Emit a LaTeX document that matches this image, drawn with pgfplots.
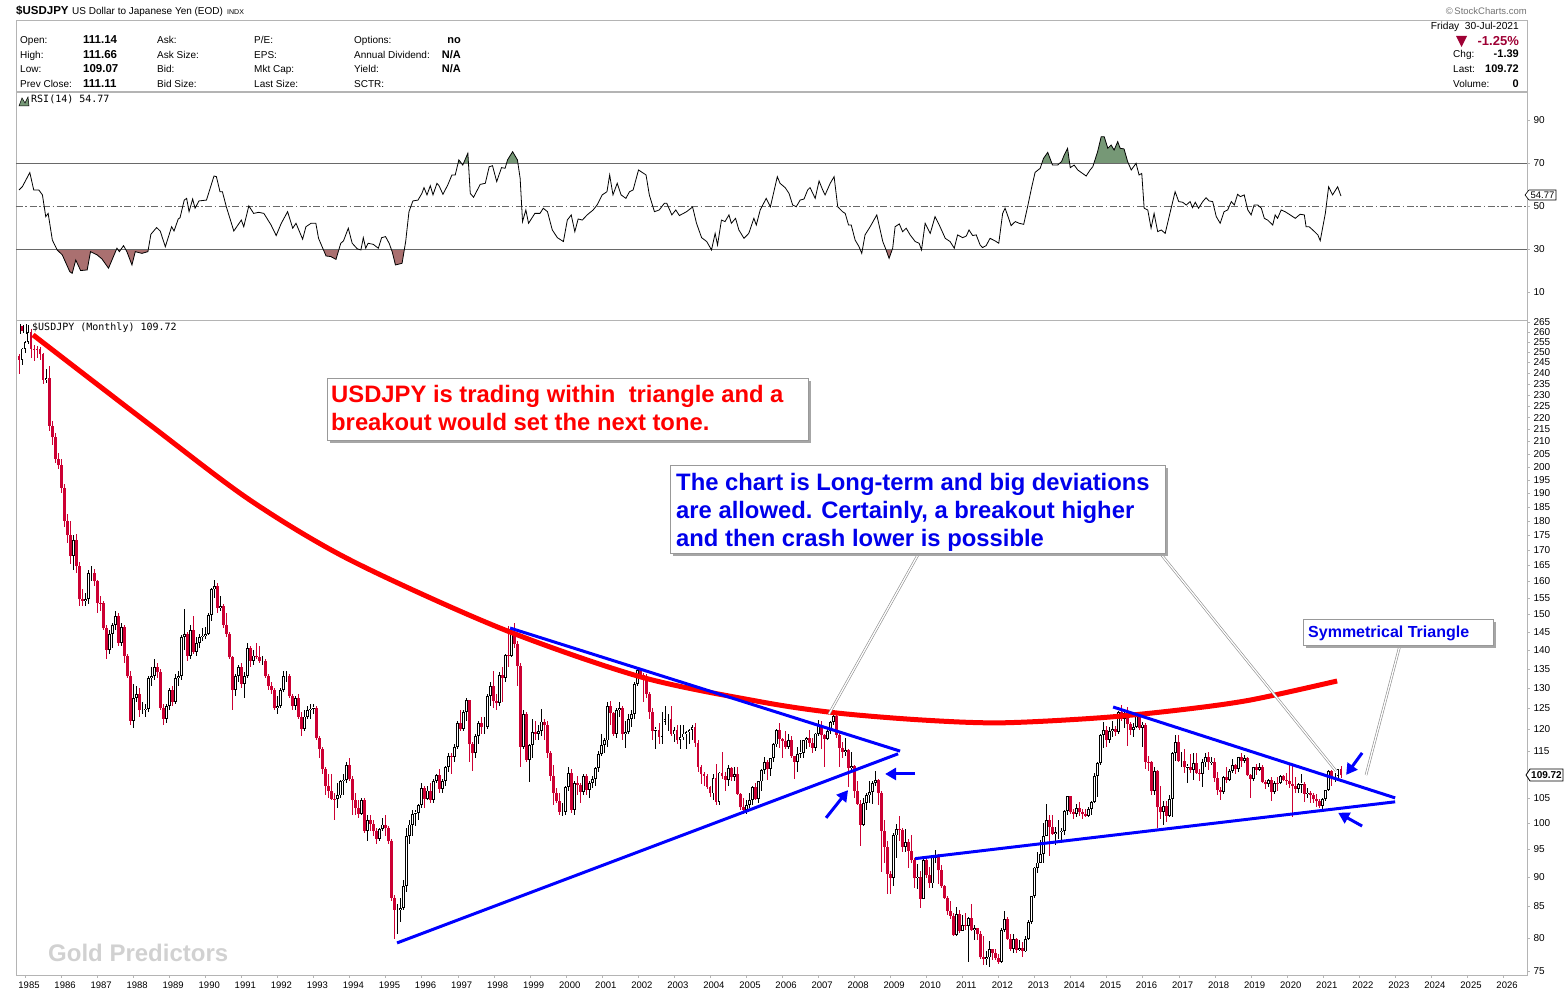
\documentclass[border=0pt]{standalone}
\usepackage{fontspec}
\setmainfont{Liberation Sans}
\newfontfamily\monofont{DejaVu Sans Mono}
\usepackage{pgfplots}
\pgfplotsset{compat=1.18}
\usepackage{pgfplotstable}
\usetikzlibrary{arrows.meta}

\definecolor{candleRed}{RGB}{204,0,51}
\definecolor{rsiGreen}{RGB}{118,152,118}
\definecolor{rsiBrown}{RGB}{170,112,112}
\definecolor{frameGray}{RGB}{180,180,180}
\definecolor{levelGray}{RGB}{105,105,105}
\definecolor{chgRed}{RGB}{158,0,52}
\definecolor{noteBlue}{RGB}{0,0,235}

% Monthly USD/JPY candles, Nov 1984 - Jul 2021 (open high low close)
\pgfplotstableread[row sep=\\]{
o h l c\\
248.0 249.0 239.5 246.2\\ 246.2 252.0 243.5 251.6\\
% 1985
251.6 255.5 249.5 254.8\\ 254.8 263.6 254.0 259.6\\ 259.6 261.5 247.0 251.5\\ 251.5 253.5 245.5 251.4\\ 251.4 253.0 247.0 251.3\\ 251.3 252.5 246.0 248.8\\ 248.8 249.5 235.0 236.8\\ 236.8 242.0 235.5 237.4\\ 237.4 243.0 214.5 216.5\\ 216.5 218.5 208.5 211.7\\ 211.7 213.5 201.5 202.9\\ 202.9 205.5 199.0 200.5\\
% 1986
200.5 203.0 190.0 192.0\\ 192.0 193.5 178.0 180.0\\ 180.0 182.5 172.5 175.0\\ 175.0 180.0 165.5 168.0\\ 168.0 175.0 163.5 173.5\\ 173.5 175.5 162.5 165.0\\ 165.0 166.0 152.5 154.5\\ 154.5 157.5 152.5 154.0\\ 154.0 156.5 152.5 154.5\\ 154.5 163.5 153.0 162.5\\ 162.5 165.0 160.0 162.5\\ 162.5 164.0 158.5 160.0\\
% 1987
160.0 160.5 150.5 153.5\\ 153.5 155.5 151.0 153.3\\ 153.3 154.0 145.5 146.0\\ 146.0 147.0 137.5 140.0\\ 140.0 145.5 139.0 144.5\\ 144.5 147.5 140.5 147.0\\ 147.0 151.0 145.5 149.5\\ 149.5 150.5 141.0 142.0\\ 142.0 147.5 141.0 146.5\\ 146.5 147.0 136.5 138.5\\ 138.5 139.0 132.5 133.0\\ 133.0 134.5 121.0 122.0\\
% 1988
122.0 131.0 120.2 127.5\\ 127.5 130.5 126.5 128.5\\ 128.5 130.0 123.0 124.5\\ 124.5 126.5 123.5 124.5\\ 124.5 126.0 123.0 124.8\\ 124.8 133.0 124.0 132.5\\ 132.5 135.5 130.5 133.0\\ 133.0 137.5 132.0 135.5\\ 135.5 136.5 132.5 134.0\\ 134.0 135.0 124.5 125.0\\ 125.0 126.0 121.0 122.5\\ 122.5 126.0 121.5 125.5\\
% 1989
125.5 130.0 124.5 129.5\\ 129.5 130.5 125.5 126.5\\ 126.5 133.5 126.0 132.5\\ 132.5 134.5 130.5 133.0\\ 133.0 144.0 132.0 143.5\\ 143.5 151.5 140.0 144.5\\ 144.5 145.0 137.0 138.5\\ 138.5 147.0 137.5 145.5\\ 145.5 149.5 139.0 139.5\\ 139.5 143.5 138.5 142.0\\ 142.0 144.5 140.5 143.5\\ 143.5 146.0 142.5 143.8\\
% 1990
143.8 146.5 143.0 144.5\\ 144.5 150.5 144.0 149.8\\ 149.8 158.0 148.0 157.5\\ 157.5 160.3 155.0 158.5\\ 158.5 159.5 150.5 152.0\\ 152.0 155.5 151.0 152.5\\ 152.5 153.0 146.0 147.0\\ 147.0 150.5 143.5 144.5\\ 144.5 145.0 137.5 138.0\\ 138.0 138.5 124.5 129.5\\ 129.5 133.5 128.0 133.0\\ 133.0 136.0 131.5 135.5\\
% 1991
135.5 136.5 130.0 131.0\\ 131.0 134.0 127.5 133.0\\ 133.0 142.0 132.5 140.5\\ 140.5 141.0 135.5 137.0\\ 137.0 140.0 136.0 138.5\\ 138.5 142.0 137.5 138.0\\ 138.0 141.0 136.5 137.0\\ 137.0 138.5 136.0 137.0\\ 137.0 137.5 132.5 133.0\\ 133.0 133.5 129.5 130.5\\ 130.5 131.5 128.5 129.5\\ 129.5 130.0 124.5 125.0\\
% 1992
125.0 128.0 123.5 125.5\\ 125.5 130.0 125.0 129.5\\ 129.5 134.5 129.0 133.0\\ 133.0 134.5 131.5 133.0\\ 133.0 133.5 127.5 128.0\\ 128.0 128.5 124.5 125.5\\ 125.5 128.0 124.5 127.5\\ 127.5 128.5 122.5 123.0\\ 123.0 124.0 118.5 120.0\\ 120.0 124.5 119.5 123.0\\ 123.0 125.5 122.5 124.5\\ 124.5 126.0 122.5 124.8\\
% 1993
124.8 126.0 123.5 125.0\\ 125.0 125.5 117.5 118.0\\ 118.0 118.5 113.5 115.5\\ 115.5 116.0 110.0 111.0\\ 111.0 111.5 105.5 107.5\\ 107.5 110.0 105.0 106.5\\ 106.5 110.0 104.5 104.8\\ 104.8 106.0 100.5 104.7\\ 104.7 108.0 103.0 105.5\\ 105.5 108.8 105.0 108.5\\ 108.5 110.0 105.5 108.8\\ 108.8 112.5 108.0 111.9\\
% 1994
111.9 113.5 108.5 109.0\\ 109.0 109.5 101.5 104.5\\ 104.5 106.0 101.5 103.0\\ 103.0 104.5 101.0 101.8\\ 101.8 105.0 101.5 104.5\\ 104.5 105.0 98.0 98.5\\ 98.5 101.5 96.5 100.5\\ 100.5 101.5 98.5 99.8\\ 99.8 100.5 97.5 98.5\\ 98.5 99.0 96.0 97.0\\ 97.0 99.0 96.5 98.9\\ 98.9 101.0 98.5 99.7\\
% 1995
99.7 101.5 97.5 99.0\\ 99.0 99.5 96.0 96.5\\ 96.5 97.0 86.0 86.5\\ 86.5 87.0 79.8 84.5\\ 84.5 85.5 80.5 84.5\\ 84.5 86.5 82.5 84.7\\ 84.7 89.5 84.5 88.5\\ 88.5 99.0 87.5 97.5\\ 97.5 100.5 96.0 99.7\\ 99.7 102.5 97.5 101.8\\ 101.8 102.5 99.5 101.9\\ 101.9 103.8 100.5 103.5\\
% 1996
103.5 108.0 103.0 107.0\\ 107.0 107.5 103.0 104.8\\ 104.8 107.5 104.5 106.5\\ 106.5 108.0 104.0 104.5\\ 104.5 109.0 104.0 108.5\\ 108.5 110.0 108.0 109.8\\ 109.8 111.0 106.0 106.8\\ 106.8 109.0 106.0 108.5\\ 108.5 111.8 107.5 111.5\\ 111.5 114.5 110.5 114.0\\ 114.0 114.5 110.0 113.8\\ 113.8 116.5 112.5 116.0\\
% 1997
116.0 122.0 115.5 121.5\\ 121.5 124.5 119.5 120.0\\ 120.0 124.5 119.5 124.0\\ 124.0 127.5 122.0 127.0\\ 127.0 127.0 112.5 116.5\\ 116.5 117.0 110.6 114.5\\ 114.5 119.0 113.5 118.5\\ 118.5 122.0 116.5 121.5\\ 121.5 123.0 119.0 120.5\\ 120.5 123.0 119.0 120.5\\ 120.5 128.5 120.0 128.0\\ 128.0 131.5 125.5 130.5\\
% 1998
130.5 134.5 125.0 126.8\\ 126.8 128.5 124.5 126.2\\ 126.2 134.0 125.5 133.3\\ 133.3 135.5 126.5 132.5\\ 132.5 138.8 131.5 138.7\\ 138.7 146.8 135.5 138.3\\ 138.3 145.5 138.0 144.7\\ 144.7 147.6 140.5 141.7\\ 141.7 142.5 130.5 135.7\\ 135.7 136.5 111.6 116.0\\ 116.0 124.5 115.5 123.6\\ 123.6 124.0 112.5 113.1\\
% 1999
113.1 116.5 108.3 116.3\\ 116.3 122.5 113.5 119.3\\ 119.3 122.0 117.5 118.9\\ 118.9 121.0 117.5 119.5\\ 119.5 124.8 118.5 121.8\\ 121.8 122.5 117.5 120.9\\ 120.9 122.0 113.5 114.6\\ 114.6 115.0 108.5 109.6\\ 109.6 112.0 103.5 106.1\\ 106.1 107.0 104.0 104.3\\ 104.3 106.0 101.5 102.2\\ 102.2 104.0 101.3 102.2\\
% 2000
102.2 107.5 101.5 107.2\\ 107.2 111.5 106.5 110.2\\ 110.2 111.0 102.0 102.6\\ 102.6 108.5 101.5 108.1\\ 108.1 109.5 105.5 107.7\\ 107.7 108.0 104.0 106.2\\ 106.2 110.0 105.5 109.6\\ 109.6 110.0 105.5 106.7\\ 106.7 108.5 105.0 108.0\\ 108.0 109.5 107.0 108.9\\ 108.9 111.5 107.5 111.2\\ 111.2 115.0 110.5 114.4\\
% 2001
114.4 119.0 114.0 116.4\\ 116.4 118.0 114.5 117.4\\ 117.4 126.5 116.0 125.5\\ 125.5 126.8 121.0 123.8\\ 123.8 124.0 118.5 118.9\\ 118.9 125.0 118.0 124.6\\ 124.6 126.5 123.0 125.0\\ 125.0 125.5 117.5 118.9\\ 118.9 122.0 115.8 119.4\\ 119.4 123.5 119.0 122.4\\ 122.4 124.5 120.5 123.6\\ 123.6 131.5 122.5 131.0\\
% 2002
131.0 135.2 130.5 134.7\\ 134.7 135.0 132.5 133.4\\ 133.4 133.8 126.5 132.7\\ 132.7 133.5 127.5 128.5\\ 128.5 129.0 122.5 124.0\\ 124.0 125.0 117.5 119.6\\ 119.6 120.5 115.5 119.8\\ 119.8 121.5 116.5 118.3\\ 118.3 124.0 116.5 121.8\\ 121.8 125.5 121.0 122.5\\ 122.5 123.5 119.5 122.5\\ 122.5 125.5 118.5 118.8\\
% 2003
118.8 120.5 117.0 119.9\\ 119.9 121.0 116.5 117.6\\ 117.6 121.0 115.5 118.1\\ 118.1 121.0 117.5 119.0\\ 119.0 119.5 115.5 119.4\\ 119.4 120.0 116.5 119.8\\ 119.8 121.0 117.5 120.5\\ 120.5 121.5 116.0 116.9\\ 116.9 117.5 110.5 111.5\\ 111.5 112.0 107.8 109.9\\ 109.9 110.5 107.5 109.6\\ 109.6 110.0 106.8 107.2\\
% 2004
107.2 107.5 105.2 105.9\\ 105.9 110.0 104.5 109.1\\ 109.1 112.2 103.5 104.2\\ 104.2 110.5 103.5 110.3\\ 110.3 114.9 109.0 109.5\\ 109.5 110.5 106.5 108.8\\ 108.8 112.0 107.5 111.3\\ 111.3 111.5 108.5 109.3\\ 109.3 111.5 108.5 110.0\\ 110.0 111.5 105.5 105.8\\ 105.8 106.0 102.5 103.1\\ 103.1 105.0 101.8 102.6\\
% 2005
102.6 104.5 101.7 103.6\\ 103.6 106.0 103.0 104.6\\ 104.6 107.5 103.5 107.2\\ 107.2 108.0 104.5 104.8\\ 104.8 108.5 104.0 108.4\\ 108.4 111.0 106.5 110.9\\ 110.9 113.7 110.0 112.5\\ 112.5 113.0 108.8 111.0\\ 111.0 113.5 109.5 113.4\\ 113.4 116.8 112.5 116.5\\ 116.5 120.0 116.0 119.8\\ 119.8 121.4 115.8 117.8\\
% 2006
117.8 118.0 113.5 117.3\\ 117.3 119.5 115.5 115.9\\ 115.9 119.0 115.5 117.6\\ 117.6 118.5 113.5 113.9\\ 113.9 114.0 108.9 112.6\\ 112.6 116.0 110.5 114.4\\ 114.4 117.5 113.5 114.5\\ 114.5 117.5 113.5 117.4\\ 117.4 118.3 115.5 118.0\\ 118.0 119.9 116.0 116.9\\ 116.9 118.0 114.5 115.8\\ 115.8 119.2 115.0 119.0\\
% 2007
119.0 122.2 118.5 120.7\\ 120.7 121.9 115.5 118.6\\ 118.6 119.0 111.6 117.8\\ 117.8 120.0 117.5 119.5\\ 119.5 122.0 119.0 121.7\\ 121.7 124.1 121.0 123.2\\ 123.2 123.6 118.0 118.7\\ 118.7 119.5 111.6 115.8\\ 115.8 117.0 113.5 114.8\\ 114.8 117.9 114.0 115.3\\ 115.3 115.5 107.2 111.2\\ 111.2 114.7 110.5 111.7\\
% 2008
111.7 111.9 105.0 106.4\\ 106.4 108.5 103.5 103.8\\ 103.8 104.5 95.7 99.7\\ 99.7 105.0 99.5 104.0\\ 104.0 106.0 102.5 105.5\\ 105.5 108.6 104.0 106.2\\ 106.2 108.5 103.8 108.1\\ 108.1 110.7 107.5 108.8\\ 108.8 109.0 103.5 106.0\\ 106.0 106.5 90.9 98.5\\ 98.5 100.5 92.5 95.5\\ 95.5 96.5 87.1 90.6\\
% 2009
90.6 91.0 87.1 89.9\\ 89.9 98.0 88.5 97.6\\ 97.6 99.8 93.5 98.9\\ 98.9 101.4 96.5 98.6\\ 98.6 99.0 94.5 95.4\\ 95.4 98.9 94.5 96.4\\ 96.4 97.0 91.7 94.7\\ 94.7 97.7 92.5 93.0\\ 93.0 93.5 88.2 89.8\\ 89.8 92.3 88.0 90.1\\ 90.1 91.0 84.8 86.3\\ 86.3 93.2 86.2 93.0\\
% 2010
93.0 93.8 89.9 90.3\\ 90.3 91.8 88.1 88.9\\ 88.9 93.8 88.2 93.5\\ 93.5 94.8 92.5 94.0\\ 94.0 94.2 88.8 91.2\\ 91.2 92.2 88.2 88.4\\ 88.4 88.6 86.2 86.5\\ 86.5 86.8 83.6 84.2\\ 84.2 85.9 82.9 83.5\\ 83.5 84.0 80.2 80.4\\ 80.4 85.0 80.2 83.7\\ 83.7 84.5 80.8 81.1\\
% 2011
81.1 83.6 81.0 82.0\\ 82.0 84.0 81.2 81.8\\ 81.8 83.3 76.3 83.1\\ 83.1 85.5 81.0 81.2\\ 81.2 82.0 79.6 81.5\\ 81.5 81.6 79.7 80.5\\ 80.5 81.0 76.8 77.0\\ 77.0 80.2 75.9 76.7\\ 76.7 77.9 75.9 77.0\\ 77.0 79.5 75.6 78.2\\ 78.2 78.3 76.6 77.6\\ 77.6 78.3 76.6 76.9\\
% 2012
76.9 77.5 76.0 76.3\\ 76.3 81.6 76.1 81.2\\ 81.2 84.2 80.9 82.9\\ 82.9 83.3 79.6 79.8\\ 79.8 80.6 78.0 78.3\\ 78.3 80.6 77.7 79.8\\ 79.8 80.0 77.6 78.1\\ 78.1 79.6 78.0 78.4\\ 78.4 79.3 77.1 77.9\\ 77.9 80.2 77.8 79.8\\ 79.8 82.8 79.7 82.5\\ 82.5 86.8 82.1 86.7\\
% 2013
86.7 91.8 86.5 91.7\\ 91.7 94.5 90.8 92.6\\ 92.6 96.7 92.5 94.2\\ 94.2 99.9 92.6 97.5\\ 97.5 103.7 97.5 100.5\\ 100.5 101.5 93.8 99.2\\ 99.2 101.5 97.6 97.9\\ 97.9 99.2 95.8 98.2\\ 98.2 100.6 97.0 98.2\\ 98.2 99.0 96.6 98.4\\ 98.4 102.5 97.6 102.4\\ 102.4 105.4 101.6 105.3\\
% 2014
105.3 105.4 101.8 102.1\\ 102.1 102.8 100.8 101.8\\ 101.8 103.8 101.2 103.0\\ 103.0 104.1 101.4 102.2\\ 102.2 102.7 100.8 101.8\\ 101.8 102.8 101.1 101.3\\ 101.3 103.1 101.1 102.8\\ 102.8 104.3 101.5 104.1\\ 104.1 110.1 104.0 109.6\\ 109.6 112.5 105.2 112.3\\ 112.3 118.9 112.0 118.6\\ 118.6 121.8 115.6 119.8\\
% 2015
119.8 120.8 115.9 117.5\\ 117.5 120.5 116.9 119.6\\ 119.6 122.0 118.3 120.1\\ 120.1 120.8 118.5 119.4\\ 119.4 124.4 118.9 124.1\\ 124.1 125.9 122.0 122.5\\ 122.5 124.6 120.4 123.9\\ 123.9 125.3 116.2 121.2\\ 121.2 121.7 118.6 119.9\\ 119.9 121.5 118.1 120.6\\ 120.6 123.8 120.3 123.1\\ 123.1 123.7 119.9 120.2\\
% 2016
120.2 121.7 115.9 121.1\\ 121.1 121.5 111.0 112.7\\ 112.7 114.0 110.7 112.6\\ 112.6 112.9 105.6 106.5\\ 106.5 111.5 105.5 110.7\\ 110.7 110.9 99.0 103.2\\ 103.2 107.5 100.7 102.1\\ 102.1 104.3 99.6 103.4\\ 103.4 104.3 100.1 101.4\\ 101.4 105.5 101.2 104.8\\ 104.8 114.8 101.2 114.5\\ 114.5 118.7 112.9 117.0\\
% 2017
117.0 118.6 112.5 112.8\\ 112.8 114.9 111.6 112.8\\ 112.8 115.5 110.1 111.4\\ 111.4 112.2 108.1 111.5\\ 111.5 114.4 110.2 110.8\\ 110.8 114.5 108.8 112.4\\ 112.4 114.5 110.1 110.3\\ 110.3 111.1 108.6 110.0\\ 110.0 113.3 107.3 112.5\\ 112.5 114.5 111.6 113.7\\ 113.7 114.7 110.8 112.5\\ 112.5 113.8 111.9 112.7\\
% 2018
112.7 113.4 108.3 109.2\\ 109.2 110.5 105.6 106.7\\ 106.7 107.3 104.6 106.3\\ 106.3 109.6 105.7 109.3\\ 109.3 111.4 108.1 108.8\\ 108.8 111.0 108.5 110.7\\ 110.7 113.2 110.3 111.9\\ 111.9 112.2 110.0 111.0\\ 111.0 113.8 110.4 113.7\\ 113.7 114.6 111.4 112.9\\ 112.9 114.2 112.3 113.5\\ 113.5 113.8 109.6 109.7\\
% 2019
109.7 110.0 104.9 108.9\\ 108.9 111.5 108.5 111.4\\ 111.4 112.1 109.7 110.8\\ 110.8 112.4 110.6 111.4\\ 111.4 112.0 108.2 108.3\\ 108.3 108.8 106.8 107.8\\ 107.8 109.0 107.2 108.7\\ 108.7 109.3 104.4 106.3\\ 106.3 108.5 105.8 108.1\\ 108.1 109.3 106.5 108.0\\ 108.0 109.7 107.9 109.5\\ 109.5 109.7 108.4 108.7\\
% 2020
108.7 110.3 107.6 108.4\\ 108.4 112.2 107.0 107.9\\ 107.9 111.7 101.2 107.5\\ 107.5 109.4 105.9 106.9\\ 106.9 108.1 105.9 107.8\\ 107.8 109.9 106.1 107.9\\ 107.9 108.2 104.2 105.8\\ 105.8 107.0 104.9 105.9\\ 105.9 106.5 104.0 105.5\\ 105.5 106.1 104.0 104.7\\ 104.7 105.7 103.2 104.3\\ 104.3 104.8 102.9 103.3\\
% 2021
103.3 105.0 102.6 104.7\\ 104.7 106.7 104.4 106.6\\ 106.6 110.9 106.4 110.7\\ 110.7 110.9 107.5 109.3\\ 109.3 110.2 108.3 109.6\\ 109.6 111.1 108.6 111.05\\ 111.05 111.66 109.07 109.72\\
}\candles
\pgfplotstablecreatecol[create col/expr={1984.8333+\pgfplotstablerow/12}]{t}\candles

% RSI(14), k = months after Nov 1984
\pgfplotstableread[row sep=\\]{
k v\\
0 57.6\\ 1.1 59.1\\ 3.6 65.7\\ 4.9 57.6\\ 6.6 57.6\\ 7.8 55.3\\ 8.9 45.2\\ 9.7 46.7\\ 11.1 34.3\\ 12.7 29.7\\ 14.4 27.4\\ 16.9 19.6\\ 17.7 18.8\\ 18.9 25.0\\ 20.5 20.1\\ 22.7 20.4\\ 23.8 28.9\\ 26.0 27.4\\ 27.6 25.5\\ 29.8 21.2\\
32.6 30.5\\ 33.4 28.9\\ 34.8 31.7\\ 35.9 28.9\\ 37.6 22.7\\ 38.7 28.9\\ 40.9 28.1\\ 42.9 28.9\\ 43.9 37.0\\ 45.8 40.1\\ 47.0 38.5\\ 48.7 31.2\\ 50.8 40.5\\ 51.6 38.5\\ 53.0 44.1\\ 53.6 44.7\\ 55.0 52.9\\ 55.8 53.7\\ 56.6 47.5\\ 57.8 53.4\\
58.6 49.1\\ 59.9 52.5\\ 62.4 52.9\\ 64.9 64.1\\ 65.7 63.8\\ 66.9 56.8\\ 67.7 56.8\\ 69.0 49.8\\ 71.5 38.5\\ 74.0 43.6\\ 74.8 40.5\\ 76.5 50.2\\ 78.1 46.7\\ 79.8 47.2\\ 81.5 46.7\\ 83.9 41.3\\ 85.6 36.4\\ 87.3 42.1\\ 89.4 47.5\\ 91.1 39.8\\
92.2 42.1\\ 94.4 34.7\\ 95.5 40.5\\ 97.2 42.1\\ 98.8 42.1\\ 99.7 35.1\\ 102.2 26.9\\ 103.8 26.6\\ 105.5 25.3\\ 107.1 32.8\\ 108.0 33.9\\ 109.6 39.8\\ 110.9 32.8\\ 112.6 30.2\\ 113.8 29.7\\ 114.6 35.4\\ 115.4 30.5\\ 116.2 32.8\\ 117.9 32.3\\ 119.6 30.5\\
120.7 35.4\\ 122.0 35.9\\ 123.2 32.8\\ 124.2 28.9\\ 125.3 22.7\\ 127.5 23.5\\ 128.7 33.6\\ 129.8 47.5\\ 131.1 52.5\\ 132.8 52.9\\ 134.1 56.0\\ 134.8 58.7\\ 135.8 55.3\\ 136.9 59.6\\ 137.8 55.3\\ 139.1 60.7\\ 139.8 59.6\\ 141.1 55.6\\ 142.7 59.9\\ 144.1 64.6\\
145.2 64.6\\ 146.4 71.6\\ 147.7 69.2\\ 149.4 74.7\\ 150.2 56.0\\ 151.3 54.2\\ 153.5 60.2\\ 155.2 60.7\\ 156.5 68.4\\ 157.6 68.9\\ 159.0 61.5\\ 160.6 68.0\\ 161.8 67.7\\ 162.6 71.6\\ 164.3 75.4\\ 165.9 71.6\\ 166.8 63.0\\ 167.6 42.9\\ 168.7 48.3\\ 169.6 42.1\\
171.7 46.7\\ 173.4 46.7\\ 174.5 49.1\\ 175.9 47.5\\ 177.5 39.0\\ 179.2 35.4\\ 181.2 33.6\\ 182.5 43.6\\ 183.8 46.0\\ 185.0 38.2\\ 186.1 44.1\\ 187.5 43.6\\ 189.1 46.0\\ 191.1 48.3\\ 192.4 50.6\\ 194.1 55.3\\ 195.7 56.8\\ 196.6 64.6\\ 197.7 55.3\\ 199.1 60.7\\
200.4 55.3\\ 202.0 53.7\\ 203.2 56.8\\ 204.4 57.6\\ 206.2 66.9\\ 208.7 64.6\\ 209.8 55.3\\ 211.5 47.5\\ 213.1 48.3\\ 214.8 51.4\\ 215.6 51.4\\ 217.3 46.0\\ 218.6 48.3\\ 219.8 45.7\\ 222.2 47.5\\ 224.2 49.7\\ 225.5 42.1\\ 227.2 35.4\\ 228.9 33.6\\ 230.5 29.7\\
231.7 37.4\\ 232.5 32.0\\ 233.8 43.6\\ 235.0 42.9\\ 236.3 46.0\\ 237.1 42.1\\ 238.5 44.4\\ 239.6 39.0\\ 241.3 35.1\\ 242.9 37.4\\ 244.6 44.4\\ 245.4 41.3\\ 246.7 48.3\\ 248.7 53.7\\ 250.1 49.8\\ 252.4 63.8\\ 253.3 60.7\\ 255.0 58.7\\ 256.3 56.0\\ 257.5 50.6\\
258.7 49.8\\ 260.0 52.9\\ 261.3 53.4\\ 262.5 57.6\\ 263.3 58.7\\ 265.0 53.7\\ 266.3 61.8\\ 267.5 57.6\\ 268.3 55.3\\ 270.0 60.7\\ 271.3 63.8\\ 272.5 49.8\\ 274.1 47.5\\ 275.0 46.7\\ 276.1 41.3\\ 277.0 41.3\\ 278.3 34.3\\ 279.6 31.2\\ 280.5 28.1\\ 281.6 36.7\\
283.3 40.5\\ 285.5 46.0\\ 287.5 33.6\\ 288.6 29.7\\ 289.6 25.8\\ 290.8 30.5\\ 291.6 40.5\\ 293.0 41.8\\ 294.1 38.2\\ 295.3 39.8\\ 296.6 36.7\\ 298.3 33.6\\ 299.6 32.8\\ 300.4 29.7\\ 301.6 42.1\\ 303.3 37.4\\ 304.9 45.2\\ 306.3 41.3\\ 308.3 35.1\\ 309.9 33.6\\
311.3 30.5\\ 312.4 36.7\\ 314.1 35.4\\ 315.3 36.2\\ 316.2 39.0\\ 317.4 36.4\\ 318.6 36.7\\ 319.9 32.0\\ 320.7 30.8\\ 321.9 31.7\\ 323.2 35.1\\ 324.9 33.9\\ 326.1 32.8\\ 327.4 46.7\\ 328.2 49.1\\ 329.6 43.6\\ 330.2 41.0\\ 331.6 42.9\\ 332.9 42.1\\ 334.4 41.6\\
335.7 49.8\\ 337.1 59.1\\ 338.2 65.8\\ 339.9 67.7\\ 341.0 72.3\\ 342.4 75.1\\ 344.0 69.2\\ 345.7 69.2\\ 347.0 70.8\\ 347.9 73.9\\ 349.0 77.0\\ 349.9 68.0\\ 351.2 69.2\\ 352.4 66.9\\ 354.0 65.3\\ 355.2 64.1\\ 356.5 66.9\\ 357.4 68.4\\ 359.0 75.4\\ 360.2 82.4\\
361.2 82.4\\ 362.4 77.0\\ 363.5 78.5\\ 364.5 76.2\\ 365.7 80.1\\ 366.5 77.0\\ 367.8 76.7\\ 369.0 70.8\\ 370.2 66.9\\ 371.8 70.0\\ 372.8 64.6\\ 373.7 65.3\\ 374.5 49.1\\ 375.7 48.3\\ 376.8 39.8\\ 377.8 46.7\\ 379.0 38.2\\ 380.2 39.0\\ 381.5 37.4\\ 383.2 47.5\\
384.8 56.8\\ 386.0 52.2\\ 387.3 51.9\\ 388.5 50.6\\ 389.8 52.2\\ 390.6 49.4\\ 391.5 51.9\\ 392.6 49.1\\ 394.0 52.2\\ 395.1 54.0\\ 396.1 52.5\\ 397.3 52.2\\ 398.5 45.2\\ 399.8 42.1\\ 401.1 47.5\\ 402.3 48.3\\ 403.5 52.2\\ 404.5 50.6\\ 405.6 55.6\\ 406.5 54.5\\
407.8 55.3\\ 409.0 48.3\\ 410.1 46.0\\ 411.1 50.6\\ 412.3 50.6\\ 413.5 49.1\\ 414.5 44.4\\ 415.6 43.6\\ 417.3 41.3\\ 418.1 46.0\\ 418.9 44.4\\ 420.1 48.3\\ 421.4 47.5\\ 423.1 46.0\\ 424.8 44.4\\ 426.4 46.3\\ 427.8 46.0\\ 428.4 40.5\\ 429.4 40.5\\ 430.6 39.0\\
432.3 36.7\\ 433.1 34.0\\ 434.8 46.7\\ 435.9 59.1\\ 437.2 55.3\\ 438.9 59.1\\ 440 54.77\\
}\rsi

% RSI stretches beyond the 70 / 30 bands, closed on the band line
\pgfplotstableread[row sep=\\]{
k v\\
146.13 70\\ 146.4 71.6\\ 147.27 70\\ nan nan\\
147.95 70\\ 149.4 74.7\\ 149.6 70\\ nan nan\\
162.27 70\\ 162.6 71.6\\ 164.3 75.4\\ 165.9 71.6\\ 166.07 70\\ nan nan\\
340.45 70\\ 341.0 72.3\\ 342.4 75.1\\ 343.78 70\\ nan nan\\
346.35 70\\ 347.0 70.8\\ 347.9 73.9\\ 349.0 77.0\\ 349.7 70\\ nan nan\\
357.77 70\\ 359.0 75.4\\ 360.2 82.4\\ 361.2 82.4\\ 362.4 77.0\\ 363.5 78.5\\ 364.5 76.2\\ 365.7 80.1\\ 366.5 77.0\\ 367.8 76.7\\ 369.0 70.8\\ 369.25 70\\
}\overbought
\pgfplotstableread[row sep=\\]{
k v\\
12.6 30\\ 12.7 29.7\\ 14.4 27.4\\ 16.9 19.6\\ 17.7 18.8\\ 18.9 25.0\\ 20.5 20.1\\ 22.7 20.4\\ 23.8 28.9\\ 26.0 27.4\\ 27.6 25.5\\ 29.8 21.2\\ 32.45 30\\ nan nan\\
32.85 30\\ 33.4 28.9\\ 33.95 30\\ nan nan\\
35.47 30\\ 35.9 28.9\\ 37.6 22.7\\ 38.7 28.9\\ 40.9 28.1\\ 42.9 28.9\\ 43.04 30\\ nan nan\\
101.25 30\\ 102.2 26.9\\ 103.8 26.6\\ 105.5 25.3\\ 106.5 30\\ nan nan\\
123.92 30\\ 124.2 28.9\\ 125.3 22.7\\ 127.5 23.5\\ 128.27 30\\ nan nan\\
288.52 30\\ 288.6 29.7\\ 289.6 25.8\\ 290.67 30\\
}\oversold

\pgfplotsset{
  candle/.style={draw=none, mark=none, forget plot,
    error bars/y dir=both, error bars/y explicit, error bars/error mark=none},
  panel/.style={anchor=south west, scale only axis, width=1511pt,
    xmin=1984.75, xmax=2026.66,
    axis line style={frameGray}, tick style={frameGray},
    major tick length=3pt, tick align=outside,
    ytick pos=right, yticklabel pos=right,
    /pgf/number format/assume math mode=true,
    /pgf/number format/1000 sep={}},
}

\begin{document}
\begin{tikzpicture}[x=1pt,y=1pt]
\path[use as bounding box] (0pt,0pt) rectangle (1565pt,992pt);

% ---------- RSI panel ----------
\begin{axis}[panel, at={(16pt,672pt)}, height=228pt,
  ymin=-2.9, ymax=103.2, xtick=\empty, ytick={10,30,50,70,90},
  yticklabel style={font=\fontsize{10}{10}\selectfont}]
  \addplot[fill=rsiGreen, draw=none, unbounded coords=jump] table[x expr=1984.8333+\thisrow{k}/12, y=v]{\overbought};
  \addplot[fill=rsiBrown, draw=none, unbounded coords=jump] table[x expr=1984.8333+\thisrow{k}/12, y=v]{\oversold};
  \addplot[levelGray, line width=1.1pt] coordinates {(1984.75,70) (2026.66,70)};
  \addplot[levelGray, line width=1.1pt] coordinates {(1984.75,30) (2026.66,30)};
  \addplot[levelGray, line width=0.8pt, dash pattern=on 7pt off 2.5pt on 1.5pt off 2.5pt] coordinates {(1984.75,50) (2026.66,50)};
  \addplot[black, line width=0.8pt] table[x expr=1984.8333+\thisrow{k}/12, y=v]{\rsi};
\end{axis}

% ---------- price panel ----------
\begin{axis}[panel, at={(16pt,17pt)}, height=655pt,
  ymode=log, ymin=74.42, ymax=266,
  xtick={1985,...,2026}, xtick pos=bottom,
  xticklabel style={font=\fontsize{9.5}{9.5}\selectfont, xshift=4pt},
  ytick={75,80,...,105,115,120,...,265},
  yticklabels={75,80,85,90,95,100,105,115,120,125,130,135,140,145,150,155,160,165,170,175,180,185,190,195,200,205,210,215,220,225,230,235,240,245,250,255,260,265},
  yticklabel style={font=\fontsize{10}{10}\selectfont}]
  % down months: red wick and filled red body
  \addplot[candle, error bars/error bar style={draw=candleRed, line width=0.9pt}]
    table[x expr={\thisrow{c}<\thisrow{o} ? \thisrow{t} : nan}, y=c,
      y error plus expr={\thisrow{h}-\thisrow{c}}, y error minus expr={\thisrow{c}-\thisrow{l}}]{\candles};
  \addplot[candle, error bars/error bar style={draw=candleRed, line width=2.9pt}]
    table[x expr={\thisrow{c}<\thisrow{o} ? \thisrow{t} : nan}, y=c,
      y error plus expr={\thisrow{o}-\thisrow{c}}, y error minus expr={0}]{\candles};
  % up months: black wick and hollow black body
  \addplot[candle, error bars/error bar style={draw=black, line width=0.9pt}]
    table[x expr={\thisrow{c}>=\thisrow{o} ? \thisrow{t} : nan}, y=c,
      y error plus expr={\thisrow{h}-\thisrow{c}}, y error minus expr={\thisrow{c}-\thisrow{l}}]{\candles};
  \addplot[candle, error bars/error bar style={draw=black, line width=2.9pt}]
    table[x expr={\thisrow{c}>=\thisrow{o} ? \thisrow{t} : nan}, y=c,
      y error plus expr={0}, y error minus expr={\thisrow{c}-\thisrow{o}}]{\candles};
  \addplot[candle, error bars/error bar style={draw=white, line width=0.95pt, shorten <=0.9pt, shorten >=0.9pt}]
    table[x expr={\thisrow{c}>=\thisrow{o} ? \thisrow{t} : nan}, y=c,
      y error plus expr={0}, y error minus expr={\thisrow{c}-\thisrow{o}}]{\candles};

  % long-term resistance arc
  \addplot[red, line width=5pt, smooth, mark=none] coordinates {
    (1985.222,258.4) (1988.467,216.9) (1991.241,187.4) (1994.015,166.8)
    (1998.176,146.1) (2002.060,132.9) (2005.388,126.6) (2007.469,123.9)
    (2009.827,122.2) (2012.046,121.5) (2014.820,122.7) (2017.039,124.6)
    (2018.981,127.0) (2021.394,131.8)};

  % triangle boundaries
  \addplot[blue, line width=3pt, mark=none] coordinates {(1998.454,146.1) (2009.272,115.0)};
  \addplot[blue, line width=3pt, mark=none] coordinates {(1995.319,79.2) (2009.216,114.4)};
  \addplot[blue, line width=3pt, mark=none] coordinates {(2009.688,93.3) (2023.003,104.2)};
  \addplot[blue, line width=3pt, mark=none] coordinates {(2015.181,125.3) (2023.003,105.0)};

  % arrows
  \draw[blue, line width=3pt, -{Triangle[length=11pt,width=12pt]}] (axis cs:2007.219,101.0) -- (axis cs:2007.829,106.6);
  \draw[blue, line width=3pt, -{Triangle[length=11pt,width=12pt]}] (axis cs:2009.688,110.0) -- (axis cs:2008.856,110.0);
  \draw[blue, line width=3pt, -{Triangle[length=11pt,width=12pt]}] (axis cs:2022.087,114.6) -- (axis cs:2021.644,109.8);
  \draw[blue, line width=3pt, -{Triangle[length=11pt,width=12pt]}] (axis cs:2022.087,99.4) -- (axis cs:2021.422,102.0);
\end{axis}

% ---------- header ----------
\node[anchor=base west, inner sep=0] at (16,977) {\fontsize{11.5}{12}\selectfont\bfseries \$USDJPY};
\node[anchor=base west, inner sep=0] at (72,977) {\fontsize{10}{12}\selectfont US Dollar to Japanese Yen (EOD)};
\node[anchor=base west, inner sep=0] at (227,977) {\fontsize{7}{8}\selectfont INDX};
\node[anchor=base east, inner sep=0, text=black!55] at (1527,977) {\fontsize{9.5}{10}\selectfont \textcopyright\,StockCharts.com};
\draw[frameGray, line width=0.8pt] (16,972) rectangle (1527,901);

\begin{scope}[every node/.style={anchor=base west, inner sep=0, font=\fontsize{10}{10}\selectfont}]
  \node at (20,948) {Open:};      \node at (20,933) {High:};
  \node at (20,919) {Low:};       \node at (20,904) {Prev Close:};
  \node at (157,948) {Ask:};      \node at (157,933) {Ask Size:};
  \node at (157,919) {Bid:};      \node at (157,904) {Bid Size:};
  \node at (254,948) {P/E:};      \node at (254,933) {EPS:};
  \node at (254,919) {Mkt Cap:};  \node at (254,904) {Last Size:};
  \node at (354,948) {Options:};  \node at (354,933) {Annual Dividend:};
  \node at (354,919) {Yield:};    \node at (354,904) {SCTR:};
  \node at (1453,934) {Chg:};     \node at (1453,919) {Last:};
  \node at (1453,904) {Volume:};
\end{scope}
\begin{scope}[every node/.style={anchor=base west, inner sep=0, font=\fontsize{11.5}{12}\selectfont\bfseries}]
  \node at (83,948) {111.14};  \node at (83,933) {111.66};
  \node at (83,919) {109.07};  \node at (83,904) {111.11};
\end{scope}
\begin{scope}[every node/.style={anchor=base east, inner sep=0, font=\fontsize{11}{12}\selectfont\bfseries}]
  \node at (461,948) {no};  \node at (461,933) {N/A};  \node at (461,919) {N/A};
  \node at (1519,934) {-1.39};  \node at (1519,919) {109.72};  \node at (1519,904) {0};
\end{scope}
\node[anchor=base east, inner sep=0] at (1519,962) {\fontsize{10.2}{11}\selectfont Friday~ 30-Jul-2021};
\node[anchor=base east, inner sep=0, text=chgRed] at (1519,946) {\fontsize{13}{14}\selectfont\bfseries -1.25\%};
\fill[chgRed] (1456,956) -- (1467,956) -- (1461.5,945) -- cycle;

% ---------- panel captions ----------
\filldraw[fill=rsiGreen, draw=black, line width=0.5pt] (19,886) -- (22,894) -- (25,889) -- (28,895) -- (29,886) -- cycle;
\node[anchor=base west, inner sep=0] at (31,889) {\monofont\fontsize{10}{10}\selectfont RSI(14) 54.77};
\draw[black, line width=0.7pt] (20,658) -- (20,668) (23,659) -- (23,667) (26,658) -- (26,668);
\fill[candleRed] (21,661) rectangle (22.5,666);
\node[anchor=base west, inner sep=0] at (32,661) {\monofont\fontsize{10}{10}\selectfont \$USDJPY (Monthly) 109.72};

% value tags on the right scale
\filldraw[fill=white, draw=black, line width=0.6pt] (1525,797) -- (1529,802) -- (1556,802) -- (1556,792) -- (1529,792) -- cycle;
\node[inner sep=0] at (1542.5,797) {\fontsize{9.5}{10}\selectfont 54.77};
\filldraw[fill=white, draw=black, line width=0.8pt] (1526,217) -- (1530,223) -- (1563,223) -- (1563,211) -- (1530,211) -- cycle;
\node[inner sep=0] at (1546.5,217) {\fontsize{10}{10}\selectfont\bfseries 109.72};

% ---------- notes ----------
\node[anchor=west, inner sep=0, text=black!18] at (48,39) {\fontsize{24}{24}\selectfont\bfseries Gold Predictors};

\fill[black!35] (330,549) rectangle (811,611);
\filldraw[fill=white, draw=black!40, line width=0.8pt] (327,614) rectangle (808,552);
\node[anchor=base west, inner sep=0, text=red] at (331,589) {\fontsize{23.8}{24}\selectfont\bfseries USDJPY is trading within~ triangle and a};
\node[anchor=base west, inner sep=0, text=red] at (331,561) {\fontsize{23.8}{24}\selectfont\bfseries breakout would set the next tone.};

\draw[black!45, line width=0.6pt, double=white, double distance=1.3pt] (919,439) -- (829,278);
\draw[black!45, line width=0.6pt, double=white, double distance=1.3pt] (1160,439) -- (1336,221);
\fill[black!35] (673,436) rectangle (1168,524);
\filldraw[fill=white, draw=black!40, line width=0.8pt] (670,527) rectangle (1165,439);
\node[anchor=base west, inner sep=0, text=noteBlue] at (676,501) {\fontsize{23.8}{24}\selectfont\bfseries The chart is Long-term and big deviations};
\node[anchor=base west, inner sep=0, text=noteBlue] at (676,473) {\fontsize{23.8}{24}\selectfont\bfseries are allowed. Certainly, a breakout higher};
\node[anchor=base west, inner sep=0, text=noteBlue] at (676,445) {\fontsize{23.8}{24}\selectfont\bfseries and then crash lower is possible};

\draw[black!45, line width=0.6pt, double=white, double distance=1.3pt] (1400,347) -- (1366,217);
\fill[black!35] (1306,344) rectangle (1496,370);
\filldraw[fill=white, draw=black!40, line width=0.8pt] (1303,373) rectangle (1493,347);
\node[anchor=base west, inner sep=0, text=noteBlue] at (1308,354) {\fontsize{16}{16}\selectfont\bfseries Symmetrical Triangle};
\end{tikzpicture}
\end{document}
